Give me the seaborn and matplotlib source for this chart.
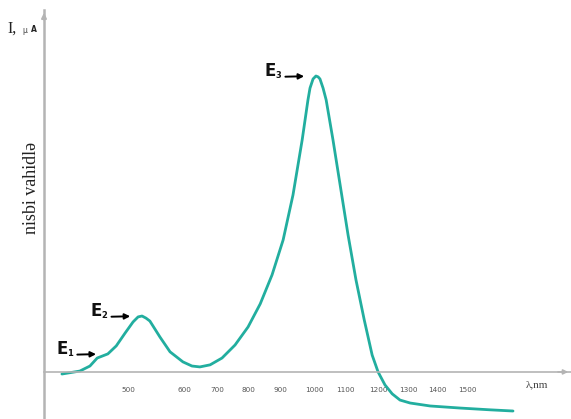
import numpy as np
import pandas as pd
import matplotlib
matplotlib.use("Agg")
import matplotlib.pyplot as plt
import seaborn as sns

# ─────────────────────────────────────────────
# DATA
# ─────────────────────────────────────────────
wavelength_nm = [382, 414, 432, 445, 464, 479, 495, 509, 518, 525, 532, 539, 557, 575,
                 598, 624, 648, 679, 716, 758, 800, 838, 875, 909, 938, 965, 982, 988,
                 997, 1006, 1013, 1019, 1029, 1039, 1061, 1084, 1109, 1133, 1158, 1182,
                 1200, 1223, 1247, 1273, 1307, 1376, 1477, 1574, 1648]
intensity = [-0.7, 0.3, 2.0, 4.7, 6.1, 8.8, 13.2, 16.9, 18.6, 18.9, 18.2, 17.2, 11.8, 6.8,
             3.4, 2.0, 1.7, 2.4, 4.7, 9.1, 15.2, 23.0, 32.8, 44.6, 59.8, 78.4, 91.9, 95.9,
             99.0, 100.0, 99.7, 99.0, 95.9, 91.9, 78.4, 63.2, 46.3, 31.1, 17.6, 5.7,
             0.0, -4.4, -7.4, -9.5, -10.5, -11.5, -12.2, -12.8, -13.2]
tick_nm = [500, 600, 700, 800, 900, 1000, 1100, 1200, 1300, 1400, 1500]
tick_labels = ["500", "600", "700", "800", "900", "1000", "1100", "1200", "1300", "1400", "1500"]
peak_labels = ["1", "2", "3"]
peak_nm = [464, 525, 1006]   # E1 shoulder, E2, E3

# the printed axis is not linear in nm: tick spacing taken from the figure
scale_nm = [300, 500, 600, 700, 800, 900, 1000, 1100, 1200, 1300, 1400, 1500, 2000]
scale_pos = [16, 128, 184, 217, 248, 280, 314, 345, 378, 408, 437, 467, 622]

df = pd.DataFrame({"nm": wavelength_nm, "I": intensity})

TEAL = "#22ae9f"
GREY = "#b4b4b4"

sns.set_style("white")
plt.rcParams["font.family"] = ["DejaVu Sans"]

fig = plt.figure(figsize=(5.71, 4.19), dpi=100)
ax = fig.add_axes([44 / 571, 0.0, 527 / 571, 409 / 419])

sns.lineplot(data=df, x="nm", y="I", ax=ax, color=TEAL, lw=2.0,
             solid_joinstyle="round", solid_capstyle="round")

ax.set_xscale("function", functions=(lambda v: np.interp(v, scale_nm, scale_pos),
                                     lambda p: np.interp(p, scale_pos, scale_nm)))
ax.set_xlim(350, 1835)
ax.set_ylim(-15.9, 122.3)

# axes look: y line on the left, x line through zero
for s in ["top", "right"]:
    ax.spines[s].set_visible(False)
ax.spines["left"].set_color(GREY)
ax.spines["left"].set_linewidth(1.8)
ax.spines["bottom"].set_position(("data", 0))
ax.spines["bottom"].set_color(GREY)
ax.spines["bottom"].set_linewidth(1.2)
ax.annotate("", xy=(1.0, 0), xytext=(0.97, 0), xycoords=("axes fraction", "data"),
            arrowprops=dict(arrowstyle="-|>", color=GREY, lw=1.2, mutation_scale=7),
            annotation_clip=False)
ax.annotate("", xy=(0, 1.0), xytext=(0, 0.97), xycoords="axes fraction",
            arrowprops=dict(arrowstyle="-|>", color=GREY, lw=1.5, mutation_scale=7),
            annotation_clip=False)

ax.set_xticks(tick_nm)
ax.set_xticklabels(tick_labels)
ax.minorticks_off()
ax.tick_params(axis="x", direction="out", length=5, width=1.6, color="#333333",
               labelsize=5.2, labelcolor="#555555", pad=6)
ax.set_yticks([])
ax.set_xlabel("")
ax.set_ylabel("")

# E labels with arrows pointing to the features
for lab, x0 in zip(peak_labels, peak_nm):
    y0 = float(np.interp(x0, wavelength_nm, intensity))
    ax.annotate("", xy=(x0, y0), xycoords="data", xytext=(-22, -0.5),
                textcoords="offset points",
                arrowprops=dict(arrowstyle="-|>", color="black", lw=1.4,
                                mutation_scale=8, shrinkA=0, shrinkB=8.5))
    ax.annotate("E", xy=(x0, y0), xycoords="data", xytext=(-29, 3.5),
                textcoords="offset points", ha="right", va="center",
                fontsize=12, fontweight="bold", color="#111111")
    ax.annotate(lab, xy=(x0, y0), xycoords="data", xytext=(-25, 0.5),
                textcoords="offset points", ha="right", va="center",
                fontsize=6, fontweight="bold", color="#111111")

# axis captions
fig.text(7 / 571, 1 - 33 / 419, "I,", family="Liberation Serif", fontsize=11.5,
         color="#222222", ha="left", va="baseline")
fig.text(22 / 571, 1 - 33 / 419, "μ", family="DejaVu Sans", fontsize=5.5,
         color="#444444", ha="left", va="baseline")
fig.text(31 / 571, 1 - 32 / 419, "A", family="DejaVu Sans", fontsize=5.5,
         fontweight="bold", color="#222222", ha="left", va="baseline")
fig.text(32 / 571, 1 - 188 / 419, "nisbi vahidlə", family="Liberation Serif",
         fontsize=13, rotation=90, color="#222222", ha="center", va="center")
fig.text(537 / 571, 1 - 385 / 419, "λ,nm", family="Liberation Serif",
         fontsize=8, color="#444444", ha="center", va="center")

fig.savefig("out.png", dpi=100)
plt.close(fig)
